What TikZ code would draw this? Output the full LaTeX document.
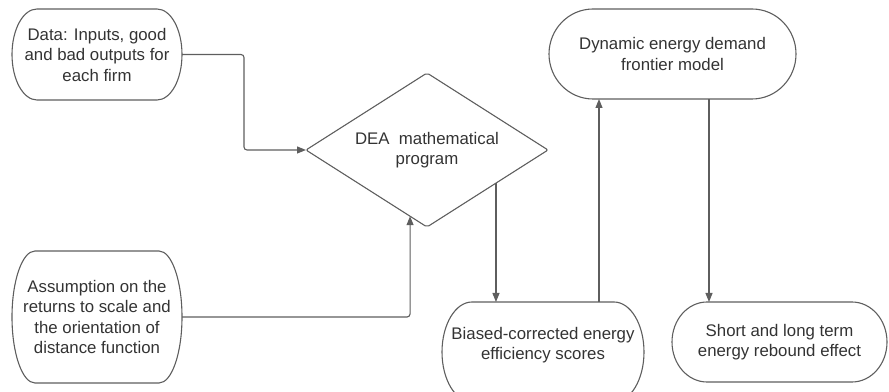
\documentclass[tikz,border=0pt]{standalone}
\usepackage{fontspec}
\setmainfont{Liberation Sans}
\usetikzlibrary{shapes.geometric,arrows.meta,calc}
\definecolor{linec}{HTML}{5E5E5E}
\definecolor{textc}{HTML}{333333}
\newcommand\termshape[3]{%
  \draw[shapeline] ([xshift=#2]#1.north west) -- ([xshift=-#2]#1.north east)
    arc[start angle=90,end angle=-90,x radius=#2,y radius=#3]
    -- ([xshift=#2]#1.south west)
    arc[start angle=270,end angle=90,x radius=#2,y radius=#3] -- cycle;}
\begin{document}
\begin{tikzpicture}[x=1pt,y=1pt,
  box/.style={rectangle, inner sep=0pt, outer sep=0pt, align=center, text=textc,
    font=\fontsize{16.8}{20.5}\selectfont},
  shapeline/.style={draw=linec, line width=1.1pt},
  conn/.style={draw=linec, line width=1.1pt, rounded corners=3pt},
  arr/.style={conn, -{Triangle[length=9pt,width=7pt]}}]
\useasboundingbox (0,0) rectangle (889,391);
\clip (0,0) rectangle (889,391);

\node[box, minimum width=170pt, minimum height=91pt] (data) at (97,336.5)
  {Data: Inputs, good\\and bad outputs for\\each firm};
\node[box, minimum width=170pt, minimum height=132pt] (assume) at (97,74)
  {Assumption on the\\returns to scale and\\the orientation of\\distance function};
\node[box, diamond, aspect=1.57, minimum width=242pt, minimum height=154pt,
  draw=linec, line width=1.1pt, rounded corners=2pt] (dea) at (427,241)
  {DEA~~mathematical\\program};
\node[box, minimum width=202pt, minimum height=100pt] (biased) at (543,39) {};
\node[box] (biasedtext) at ([yshift=7pt]biased.center)
  {Biased-corrected energy\\efficiency scores};
\node[box, minimum width=247pt, minimum height=90pt] (dynamic) at (672.5,337)
  {Dynamic energy demand\\frontier model};
\node[box, minimum width=215pt, minimum height=80pt] (short) at (779.5,49)
  {Short and long term\\energy rebound effect};

\termshape{data}{25pt}{45.5pt}
\termshape{assume}{23pt}{66pt}
\termshape{biased}{30pt}{50pt}
\termshape{dynamic}{44pt}{45pt}
\termshape{short}{35pt}{40pt}

\coordinate (bend1) at ($(data.east)!0.5!(dea.west)$);
\draw[arr] (data.east) -| (bend1 |- dea.west) -- (dea.west);

\coordinate (deain) at ($(dea.west)!0.86!(dea.south)$);
\draw[arr] (assume.east) -| (deain);

\coordinate (deaout) at ($(dea.south)!0.57!(dea.east)$);
\draw[arr] (deaout) -- (deaout |- biased.north);

\coordinate (bup) at ([xshift=56pt]biased.north);
\draw[arr] (bup) -- (bup |- dynamic.south);

\coordinate (ddown) at ([xshift=36.5pt]dynamic.south);
\draw[arr] (ddown) -- (ddown |- short.north);
\end{tikzpicture}
\end{document}
